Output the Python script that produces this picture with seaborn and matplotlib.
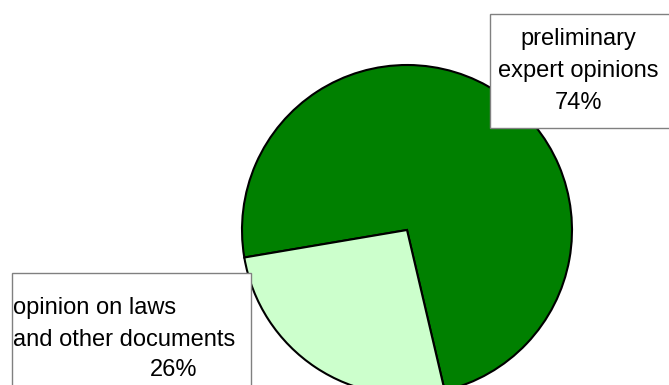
import matplotlib
matplotlib.use("Agg")
import matplotlib.pyplot as plt
from matplotlib.patches import Rectangle
import seaborn as sns

# data
categories = ["preliminary expert opinions", "opinion on laws and other documents"]
shares = [74, 26]
colors = ["#008000", "#ccffcc"]

sns.set_style("white")
plt.rcParams['font.family'] = ['Liberation Sans', 'DejaVu Sans']
plt.rcParams['text.color'] = 'black'

W, H = 669, 385
fig = plt.figure(figsize=(W / 100, H / 100), dpi=100)
ax = fig.add_axes([0, 0, 1, 1])
ax.axis('off')

wedges, _ = ax.pie(shares, colors=colors, startangle=283.2, counterclock=True,
                   center=(407, H - 230), radius=165,
                   wedgeprops=dict(edgecolor='black', linewidth=1.5))
ax.set_xlim(0, W)
ax.set_ylim(0, H)
ax.set_aspect('auto')

# label boxes
ax.add_patch(Rectangle((490, H - 128), 185, 114, facecolor='white',
                       edgecolor='#808080', linewidth=1, zorder=5))
ax.add_patch(Rectangle((12, -10), 239, H - 273 + 10, facecolor='white',
                       edgecolor='#808080', linewidth=1, zorder=5))

fs = 17
ax.text(578, H - 39, "preliminary", ha='center', va='center', fontsize=fs, color='black', zorder=6)
ax.text(578, H - 71, "expert opinions", ha='center', va='center', fontsize=fs, color='black', zorder=6)
ax.text(578, H - 103, f"{shares[0]}%", ha='center', va='center', fontsize=fs, color='black', zorder=6)

ax.text(13, H - 308, "opinion on laws", ha='left', va='center', fontsize=fs, color='black', zorder=6)
ax.text(13, H - 340, "and other documents", ha='left', va='center', fontsize=fs, color='black', zorder=6)
ax.text(174, H - 370, f"{shares[1]}%", ha='center', va='center', fontsize=fs, color='black', zorder=6)

fig.savefig("out.png", dpi=100)
